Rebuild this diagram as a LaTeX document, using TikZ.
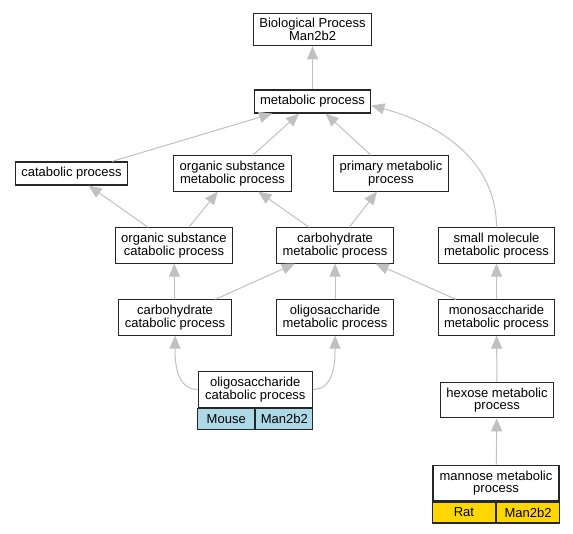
\documentclass[tikz,border=0pt]{standalone}
\usepackage{fontspec}
\setmainfont{Liberation Sans}
\usepackage{tikz}
\usetikzlibrary{arrows.meta, calc, positioning}

\definecolor{edgegray}{HTML}{C0C0C0}
\definecolor{mouseblue}{HTML}{ADD8E6}
\definecolor{ratgold}{HTML}{FFD700}

\begin{document}
\begin{tikzpicture}[x=1pt, y=1pt,
    term/.style={draw=black!85, line width=1.1pt, fill=white, align=center,
        inner xsep=6pt, inner ysep=5.2pt, minimum height=23pt,
        font=\fontsize{13}{12.6}\selectfont},
    cell/.style={draw=black!85, line width=1.1pt, minimum height=21pt,
        inner sep=0pt, font=\fontsize{13}{12.6}\selectfont},
    isa/.style={color=edgegray, line width=1pt,
        -{Triangle[length=13pt, width=11pt, fill=edgegray]}}]
    \useasboundingbox (0,0) rectangle (573,-533);

    \node[term] (bp) at (312.5, -29.5) {Biological Process\\Man2b2};
    \node[term] (mp) at (312.5, -101.5) {metabolic process};

    \node[term] (cp) at (71.5, -173.5) {catabolic process};
    \node[term] (osmp) at (232.5, -173.5) {organic substance\\metabolic process};
    \node[term] (pmp) at (391, -173.5) {primary metabolic\\process};

    \node[term] (oscp) at (174, -245.5) {organic substance\\catabolic process};
    \node[term] (cmp) at (335, -245.5) {carbohydrate\\metabolic process};
    \node[term] (smmp) at (496.5, -245.5) {small molecule\\metabolic process};

    \node[term] (ccp) at (175, -317.5) {carbohydrate\\catabolic process};
    \node[term] (omp) at (335, -317.5) {oligosaccharide\\metabolic process};
    \node[term] (msmp) at (496.5, -317.5) {monosaccharide\\metabolic process};

    \node[term, minimum width=114pt] (ocp) at (255.3, -389.5) {oligosaccharide\\catabolic process};
    \node[cell, fill=mouseblue, minimum width=57pt, anchor=north east] (ocpa) at (ocp.south) {Mouse};
    \node[cell, fill=mouseblue, minimum width=57pt, anchor=north west] (ocpb) at (ocp.south) {Man2b2};

    \node[term] (hmp) at (497, -400.3) {hexose metabolic\\process};

    \node[term, minimum width=126pt] (mnp) at (496, -483.3) {mannose metabolic\\process};
    \node[cell, fill=ratgold, minimum width=63pt, anchor=north east] (mnpa) at (mnp.south) {Rat};
    \node[cell, fill=ratgold, minimum width=63pt, anchor=north west] (mnpb) at (mnp.south) {Man2b2};

    \draw
    (mp) edge[isa] (bp)
    (cp) edge[isa] (mp)
    (osmp) edge[isa] (mp)
    (pmp) edge[isa] (mp)
    (oscp) edge[isa] (cp)
    (oscp) edge[isa] (osmp)
    (cmp) edge[isa] (osmp)
    (cmp) edge[isa] (pmp)
    (ccp) edge[isa] (oscp)
    (ccp) edge[isa] (cmp)
    (omp) edge[isa] (cmp)
    (msmp) edge[isa] (cmp)
    (msmp) edge[isa] (smmp)
    (hmp) edge[isa] (msmp)
    (mnp) edge[isa] (hmp)
    (smmp.north) edge[isa, out=90, in=-15] ([yshift=-4pt]mp.east)
    (ocp.west) edge[isa, out=180, in=-90] (ccp.south)
    (ocp.east) edge[isa, out=0, in=-90] (omp.south);
\end{tikzpicture}
\end{document}
